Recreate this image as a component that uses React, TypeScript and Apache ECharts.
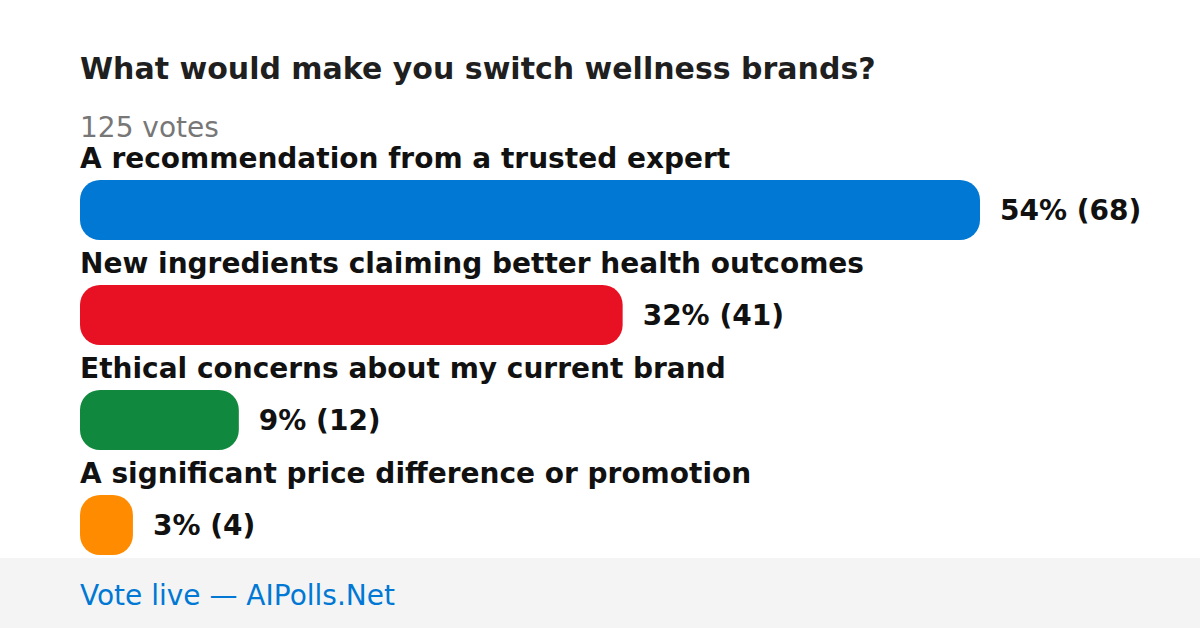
import React, { useEffect, useRef } from "react";
import * as echarts from "echarts";

const title = "What would make you switch wellness brands?";
const totalVotesLabel = "125 votes";
const footerText = "Vote live — AIPolls.Net";
const categories = [
  "A recommendation from a trusted expert",
  "New ingredients claiming better health outcomes",
  "Ethical concerns about my current brand",
  "A significant price difference or promotion",
];
const votes = [68, 41, 12, 4];
const percents = [54, 32, 9, 3];
const colors = ["#0078D4", "#E81123", "#10893E", "#FF8C00"];

const FONT = "'DejaVu Sans', sans-serif";

export default function App() {
  const ref = useRef<HTMLDivElement>(null);
  useEffect(() => {
    if (!ref.current) return;
    const chart = echarts.init(ref.current, null, { renderer: "svg" });
    chart.setOption({
      animation: false,
      backgroundColor: "#ffffff",
      grid: { left: 80, right: 220, top: 157.5, bottom: 50.5, containLabel: false },
      xAxis: { type: "value", min: 0, max: Math.max(...votes), show: false },
      yAxis: { type: "category", inverse: true, data: categories, show: false },
      graphic: [
        {
          type: "rect",
          left: 0,
          top: 558,
          shape: { width: 1200, height: 70 },
          style: { fill: "#f4f4f4" },
          silent: true,
        },
        {
          type: "text",
          x: 80,
          y: 68,
          style: {
            text: title,
            fill: "#1f1f1f",
            font: `bold 30px ${FONT}`,
            textVerticalAlign: "middle",
          },
        },
        {
          type: "text",
          x: 80,
          y: 127,
          style: {
            text: totalVotesLabel,
            fill: "#777777",
            font: `28px ${FONT}`,
            textVerticalAlign: "middle",
          },
        },
        {
          type: "text",
          x: 80,
          y: 595,
          style: {
            text: footerText,
            fill: "#0078D4",
            font: `28px ${FONT}`,
            textVerticalAlign: "middle",
          },
        },
      ],
      series: [
        {
          type: "bar",
          barWidth: 60,
          data: votes.map((v, i) => ({
            value: v,
            itemStyle: { color: colors[i], borderRadius: 20 },
          })),
          label: {
            show: true,
            position: "right",
            distance: 20,
            color: "#111111",
            fontFamily: FONT,
            fontWeight: "bold",
            fontSize: 28,
            formatter: (p: any) => `${percents[p.dataIndex]}% (${votes[p.dataIndex]})`,
          },
          z: 2,
        },
        {
          type: "bar",
          barWidth: 60,
          barGap: "-100%",
          data: votes.map((v) => ({ value: v, itemStyle: { color: "rgba(0,0,0,0)" } })),
          label: {
            show: true,
            position: [0, -22],
            align: "left",
            verticalAlign: "middle",
            color: "#111111",
            fontFamily: FONT,
            fontWeight: "bold",
            fontSize: 28,
            formatter: (p: any) => categories[p.dataIndex],
          },
          silent: true,
          z: 1,
        },
      ],
    });
    return () => chart.dispose();
  }, []);
  return (
    <div
      ref={ref}
      style={{ position: "absolute", left: 0, top: 0, width: 1200, height: 628 }}
    />
  );
}
